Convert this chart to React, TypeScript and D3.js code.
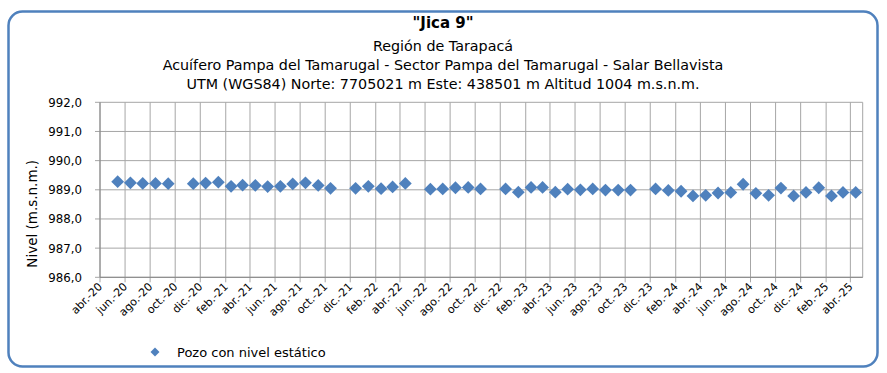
import React from 'react';
import * as d3 from 'd3';

const WIDTH = 887;
const HEIGHT = 373;

const titleLines = [
    '"Jica 9"',
    'Región de Tarapacá',
    'Acuífero Pampa del Tamarugal - Sector Pampa del Tamarugal - Salar Bellavista',
    'UTM (WGS84) Norte: 7705021 m Este: 438501 m Altitud 1004 m.s.n.m.'
];

const yAxisTitle = 'Nivel (m.s.n.m.)';
const legendLabel = 'Pozo con nivel estático';

// sample month (yyyy-mm), measured around the middle of the month
const sampleMonths = [
    '2020-05', '2020-06', '2020-07', '2020-08', '2020-09', '2020-11', '2020-12',
    '2021-01', '2021-02', '2021-03', '2021-04', '2021-05', '2021-06', '2021-07', '2021-08', '2021-09', '2021-10', '2021-12',
    '2022-01', '2022-02', '2022-03', '2022-04', '2022-06', '2022-07', '2022-08', '2022-09', '2022-10', '2022-12',
    '2023-01', '2023-02', '2023-03', '2023-04', '2023-05', '2023-06', '2023-07', '2023-08', '2023-09', '2023-10', '2023-12',
    '2024-01', '2024-02', '2024-03', '2024-04', '2024-05', '2024-06', '2024-07', '2024-08', '2024-09', '2024-10', '2024-11', '2024-12',
    '2025-01', '2025-02', '2025-03', '2025-04'
];

const levels = [
    989.28, 989.24, 989.22, 989.22, 989.21, 989.21, 989.23,
    989.26, 989.12, 989.16, 989.15, 989.11, 989.12, 989.20, 989.24, 989.15, 989.05, 989.05,
    989.12, 989.04, 989.10, 989.22, 989.02, 989.03, 989.07, 989.08, 989.03, 989.03,
    988.92, 989.08, 989.08, 988.92, 989.02, 989.00, 989.03, 988.99, 988.99, 988.99, 989.03,
    988.98, 988.95, 988.79, 988.81, 988.89, 988.91, 989.19, 988.88, 988.81, 989.06, 988.79, 988.91,
    989.07, 988.79, 988.91, 988.91
];

const xTickLabels = [
    'abr.-20', 'jun.-20', 'ago.-20', 'oct.-20', 'dic.-20',
    'feb.-21', 'abr.-21', 'jun.-21', 'ago.-21', 'oct.-21', 'dic.-21',
    'feb.-22', 'abr.-22', 'jun.-22', 'ago.-22', 'oct.-22', 'dic.-22',
    'feb.-23', 'abr.-23', 'jun.-23', 'ago.-23', 'oct.-23', 'dic.-23',
    'feb.-24', 'abr.-24', 'jun.-24', 'ago.-24', 'oct.-24', 'dic.-24',
    'feb.-25', 'abr.-25'
];

const yTicks = [986, 987, 988, 989, 990, 991, 992];

const PLOT = { left: 100, right: 862.7, top: 102.3, bottom: 277.3 };
const FONT = '"DejaVu Sans", Verdana, sans-serif';
const GRID = '#a6a6a6';
const MARKER = '#4f81bd';

const parseMonth = (s: string) => {
    const [y, m] = s.split('-').map(Number);
    return new Date(y, m - 1, 14);
};

export default function App() {
    const x = d3.scaleTime()
        .domain([new Date(2020, 3, 1), new Date(2025, 4, 1)])
        .range([PLOT.left, PLOT.right]);

    const y = d3.scaleLinear()
        .domain([986, 992])
        .range([PLOT.bottom, PLOT.top]);

    const tickDates = d3.timeMonth.range(new Date(2020, 3, 1), new Date(2025, 3, 2), 2);
    const fmt = (v: number) => d3.format('.1f')(v).replace('.', ',');

    const diamond = d3.symbol().type(d3.symbolSquare).size(82)();

    const points = sampleMonths.map((m, i) => ({ date: parseMonth(m), value: levels[i] }));

    return (
        <svg width={WIDTH} height={HEIGHT} style={{ position: 'absolute', left: 0, top: 0, background: '#fff' }}>
            <rect x={8.5} y={11.5} width={869} height={355} rx={14} fill='#fff' stroke={MARKER} strokeWidth={2.5} />

            {titleLines.map((t, i) => (
                <text key={i} x={443} y={[28, 51, 70, 89][i]} textAnchor='middle'
                    fontFamily={FONT} fontSize={i === 0 ? 15 : 14.3} fontWeight={i === 0 ? 'bold' : 'normal'} fill='#000'>
                    {t}
                </text>
            ))}

            {/* grid */}
            {yTicks.map(v => (
                <line key={'h' + v} x1={PLOT.left - 5} x2={PLOT.right} y1={y(v)} y2={y(v)} stroke={GRID} strokeWidth={1} />
            ))}
            {tickDates.map((d, i) => (
                <line key={'v' + i} x1={x(d)} x2={x(d)} y1={PLOT.top} y2={PLOT.bottom + 5} stroke={GRID} strokeWidth={1} />
            ))}
            <line x1={PLOT.right} x2={PLOT.right} y1={PLOT.top} y2={PLOT.bottom} stroke={GRID} strokeWidth={1} />
            <line x1={PLOT.left} x2={PLOT.left} y1={PLOT.top} y2={PLOT.bottom} stroke='#868686' strokeWidth={1} />
            <line x1={PLOT.left} x2={PLOT.right} y1={PLOT.bottom} y2={PLOT.bottom} stroke='#868686' strokeWidth={1} />

            {/* y axis labels */}
            {yTicks.map(v => (
                <text key={'yl' + v} x={PLOT.left - 18} y={y(v) + 4.5} textAnchor='end'
                    fontFamily={FONT} fontSize={11.8} fill='#000'>{fmt(v)}</text>
            ))}
            <text transform={`translate(37,${(PLOT.top + PLOT.bottom) / 2 + 24}) rotate(-90)`} textAnchor='middle'
                fontFamily={FONT} fontSize={13.5} fill='#000'>{yAxisTitle}</text>

            {/* x axis labels */}
            {tickDates.map((d, i) => (
                <text key={'xl' + i} transform={`translate(${x(d) + 3},${PLOT.bottom + 10}) rotate(-45)`}
                    textAnchor='end' fontFamily={FONT} fontSize={11} fill='#000'>{xTickLabels[i]}</text>
            ))}

            {/* points */}
            {points.map((p, i) => (
                <path key={'p' + i} d={diamond as string}
                    transform={`translate(${x(p.date)},${y(p.value)}) rotate(45)`} fill={MARKER} />
            ))}

            {/* legend */}
            <path d={d3.symbol().type(d3.symbolSquare).size(40)() as string}
                transform='translate(155,352) rotate(45)' fill={MARKER} />
            <text x={177} y={357} fontFamily={FONT} fontSize={13} fill='#000'>{legendLabel}</text>
        </svg>
    );
}
